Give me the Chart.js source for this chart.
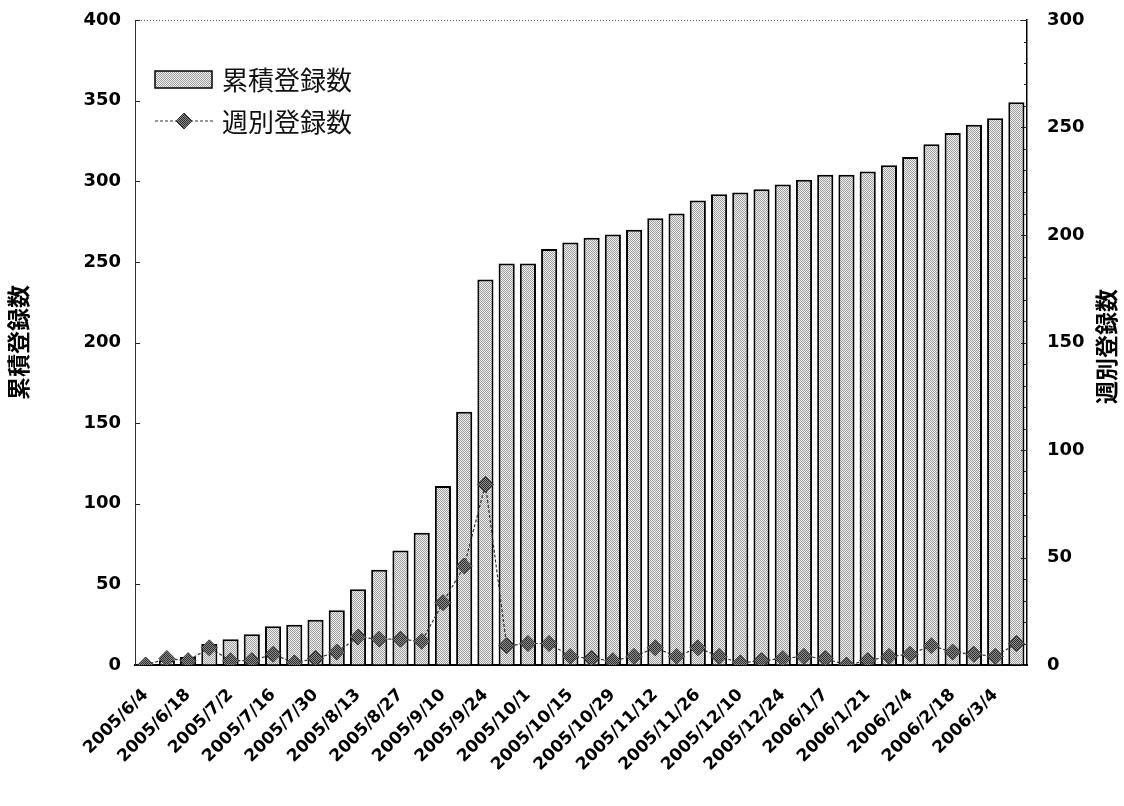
<!DOCTYPE html>
<html><head><meta charset="utf-8">
<script src="https://cdn.jsdelivr.net/npm/chart.js@4"></script>
<style>html,body{margin:0;padding:0;background:#fff;} #wrap{width:1124px;height:806px;position:relative}</style>
</head><body><div id="wrap"><canvas id="c" width="1124" height="806"></canvas></div>
<script>
const categories = ["2005/6/4","2005/6/11","2005/6/18","2005/6/25","2005/7/2","2005/7/9","2005/7/16","2005/7/23","2005/7/30","2005/8/6","2005/8/13","2005/8/20","2005/8/27","2005/9/3","2005/9/10","2005/9/17","2005/9/24","2005/9/30","2005/10/1","2005/10/8","2005/10/15","2005/10/22","2005/10/29","2005/11/5","2005/11/12","2005/11/19","2005/11/26","2005/12/3","2005/12/10","2005/12/17","2005/12/24","2005/12/31","2006/1/7","2006/1/14","2006/1/21","2006/1/28","2006/2/4","2006/2/11","2006/2/18","2006/2/25","2006/3/4","2006/3/11"];
const cumulative = [0,3,5,13,16,19,24,25,28,34,47,59,71,82,111,157,239,249,249,258,262,265,267,270,277,280,288,292,293,295,298,301,304,304,306,310,315,323,330,335,339,349];
const weekly = [0,3,2,8,2,2,5,1,3,6,13,12,12,11,29,46,84,9,10,10,4,3,2,4,8,4,8,4,1,2,3,4,3,0,2,4,5,9,6,5,4,10];
const seriesNames = ["累積登録数","週別登録数"];
const leftTicks = [0,50,100,150,200,250,300,350,400];
const rightTicks = [0,50,100,150,200,250,300];

function makePattern(dark, light){
  const p = document.createElement('canvas'); p.width = 2; p.height = 2;
  const g = p.getContext('2d');
  g.fillStyle = light; g.fillRect(0,0,2,2);
  g.fillStyle = dark; g.fillRect(0,0,1,1); g.fillRect(1,1,1,1);
  return document.getElementById('c').getContext('2d').createPattern(p,'repeat');
}
const barFill = makePattern('#9e9e9e','#f0f0f0');
const ptFill = makePattern('#2e2e2e','#8c8c8c');

const CJK = '"Noto Sans CJK JP", "Noto Sans", sans-serif';
const NUM = '"DejaVu Sans", sans-serif';

const extras = {
  id: 'extras',
  afterDraw(chart){
    const ctx = chart.ctx, a = chart.chartArea;
    ctx.save();
    // top frame (dotted)
    ctx.strokeStyle = '#555'; ctx.lineWidth = 1; ctx.setLineDash([1,2]);
    ctx.beginPath(); ctx.moveTo(a.left, a.top + 0.5); ctx.lineTo(a.right, a.top + 0.5); ctx.stroke();
    ctx.setLineDash([]);
    // inner tick marks
    ctx.strokeStyle = '#222'; ctx.lineWidth = 1;
    const yl = chart.scales.y, yr = chart.scales.y1;
    leftTicks.forEach(v => { const y = Math.round(yl.getPixelForValue(v)) + 0.5; ctx.beginPath(); ctx.moveTo(a.left, y); ctx.lineTo(a.left + 5, y); ctx.stroke(); });
    for (let v = 0; v <= 300; v += 10) { const y = Math.round(yr.getPixelForValue(v)) + 0.5; const len = v % 50 === 0 ? 6 : 3; ctx.beginPath(); ctx.moveTo(a.right - len, y); ctx.lineTo(a.right, y); ctx.stroke(); }
    // legend
    const lx = a.left + 20;
    ctx.fillStyle = barFill; ctx.fillRect(lx, 71, 57, 17);
    ctx.strokeStyle = '#000'; ctx.lineWidth = 1.5; ctx.strokeRect(lx, 71, 57, 17);
    ctx.strokeStyle = '#333'; ctx.lineWidth = 1.2; ctx.setLineDash([3,2]);
    ctx.beginPath(); ctx.moveTo(lx, 121); ctx.lineTo(lx + 58, 121); ctx.stroke();
    ctx.setLineDash([]);
    ctx.beginPath(); ctx.moveTo(lx + 29, 113); ctx.lineTo(lx + 37, 121); ctx.lineTo(lx + 29, 129); ctx.lineTo(lx + 21, 121); ctx.closePath();
    ctx.fillStyle = ptFill; ctx.fill(); ctx.strokeStyle = '#333'; ctx.lineWidth = 1; ctx.stroke();
    ctx.fillStyle = '#111'; ctx.font = '26px ' + CJK; ctx.textBaseline = 'middle'; ctx.textAlign = 'left';
    ctx.fillText(seriesNames[0], lx + 67, 80);
    ctx.fillText(seriesNames[1], lx + 67, 122);
    // right axis title (reads bottom-to-top)
    ctx.translate(1106, (a.top + a.bottom) / 2 + 4);
    ctx.rotate(-Math.PI / 2);
    ctx.font = 'bold 23px ' + CJK; ctx.textAlign = 'center'; ctx.textBaseline = 'middle';
    ctx.fillStyle = '#000';
    ctx.fillText(seriesNames[1], 0, 0);
    ctx.restore();
  }
};

new Chart(document.getElementById('c'), {
  type: 'bar',
  data: {
    labels: categories,
    datasets: [
      { type: 'line', label: seriesNames[1], data: weekly, yAxisID: 'y1', order: 0,
        borderColor: '#333', borderWidth: 1.2, borderDash: [3,2], tension: 0,
        pointStyle: 'rectRot', pointRadius: 8, pointBackgroundColor: ptFill,
        pointBorderColor: '#333', pointBorderWidth: 1 },
      { type: 'bar', label: seriesNames[0], data: cumulative, yAxisID: 'y', order: 1,
        backgroundColor: barFill, borderColor: '#000', borderWidth: 2, borderSkipped: 'bottom',
        barPercentage: 0.76, categoryPercentage: 1.0 }
    ]
  },
  options: {
    responsive: false, animation: false, devicePixelRatio: 1,
    layout: { padding: { top: 20, left: 0, right: 0, bottom: 0 } },
    plugins: { legend: { display: false }, tooltip: { enabled: false } },
    scales: {
      x: {
        offset: true,
        grid: { display: true, drawOnChartArea: false, drawTicks: false },
        border: { display: true, color: '#000', width: 2 },
        ticks: { autoSkip: false, maxRotation: 45, minRotation: 45, padding: 20, color: '#000',
          font: { family: NUM, weight: 'bold', size: 17 },
          callback: function(v, i){ return i % 2 === 0 ? categories[i] : ''; } },
        afterFit(s){ s.height = 141; }
      },
      y: {
        position: 'left', min: 0, max: 400,
        grid: { display: true, drawOnChartArea: false, drawTicks: true, tickLength: 6, tickColor: 'rgba(0,0,0,0)' },
        border: { display: true, color: '#333', width: 1, dash: [2,1] },
        ticks: { stepSize: 50, padding: 8, color: '#000', font: { family: NUM, weight: 'bold', size: 18 } },
        title: { display: true, text: seriesNames[0], color: '#000', padding: { top: 4, bottom: 0 },
          font: { family: CJK, weight: 'bold', size: 23 } },
        afterFit(s){ s.width = 135; }
      },
      y1: {
        position: 'right', min: 0, max: 300,
        grid: { display: true, drawOnChartArea: false, drawTicks: true, tickLength: 12, tickColor: 'rgba(0,0,0,0)' },
        border: { display: true, color: '#000', width: 1.5 },
        ticks: { stepSize: 50, padding: 8, color: '#000', font: { family: NUM, weight: 'bold', size: 18 } },
        afterFit(s){ s.width = 97; }
      }
    }
  },
  plugins: [extras]
});
</script></body></html>
